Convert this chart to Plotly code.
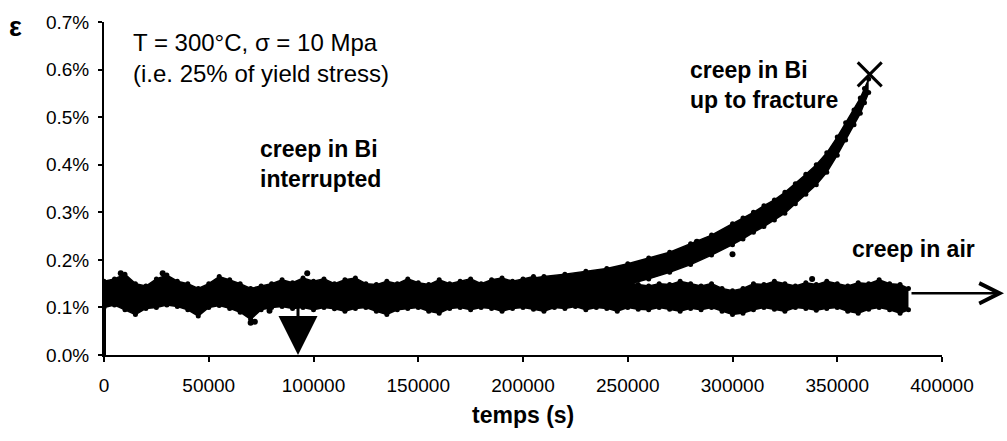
import plotly.graph_objects as go

# ---------------- data (values in % strain) ----------------
# common band (creep in air + early parts of the Bi tests)
band_t = [0, 5000, 10000, 15000, 20000, 25000, 30000, 35000, 40000, 45000,
          50000, 55000, 60000, 65000, 70000, 75000, 80000, 85000, 90000, 95000,
          100000, 105000, 110000, 115000, 120000, 125000, 130000, 135000, 140000, 145000,
          150000, 155000, 160000, 165000, 170000, 175000, 180000, 185000, 190000, 195000,
          200000, 205000, 210000, 215000, 220000, 225000, 230000, 235000, 240000, 245000,
          250000, 255000, 260000, 265000, 270000, 275000, 280000, 285000, 290000, 295000,
          300000, 305000, 310000, 315000, 320000, 325000, 330000, 335000, 340000, 345000,
          350000, 355000, 360000, 365000, 370000, 375000, 380000, 384000]
band_upper = [0.155, 0.160, 0.170, 0.150, 0.145, 0.160, 0.168, 0.155, 0.150, 0.140,
              0.150, 0.165, 0.158, 0.150, 0.140, 0.145, 0.150, 0.158, 0.152, 0.162,
              0.155, 0.160, 0.150, 0.158, 0.162, 0.150, 0.148, 0.155, 0.150, 0.160,
              0.152, 0.148, 0.158, 0.150, 0.155, 0.160, 0.150, 0.158, 0.162, 0.155,
              0.160, 0.165, 0.158, 0.162, 0.168, 0.165, 0.160, 0.158, 0.155, 0.150,
              0.152, 0.148, 0.145, 0.150, 0.148, 0.155, 0.150, 0.145, 0.150, 0.140,
              0.135, 0.140, 0.150, 0.148, 0.155, 0.150, 0.145, 0.152, 0.148, 0.155,
              0.150, 0.145, 0.152, 0.150, 0.158, 0.150, 0.148, 0.140]
band_lower = [0.100, 0.105, 0.095, 0.085, 0.098, 0.100, 0.105, 0.102, 0.095, 0.082,
              0.100, 0.104, 0.098, 0.090, 0.075, 0.095, 0.100, 0.102, 0.098, 0.100,
              0.095, 0.100, 0.097, 0.092, 0.098, 0.100, 0.092, 0.085, 0.095, 0.098,
              0.100, 0.092, 0.088, 0.098, 0.100, 0.095, 0.100, 0.098, 0.092, 0.098,
              0.100, 0.096, 0.092, 0.100, 0.098, 0.102, 0.095, 0.100, 0.098, 0.092,
              0.100, 0.096, 0.095, 0.100, 0.096, 0.092, 0.098, 0.095, 0.100, 0.092,
              0.085, 0.088, 0.095, 0.100, 0.096, 0.092, 0.100, 0.098, 0.094, 0.098,
              0.100, 0.092, 0.088, 0.096, 0.100, 0.095, 0.088, 0.095]

# creep in Bi up to fracture (accelerating part)
frac_t = [200000, 210000, 220000, 230000, 240000, 250000, 260000, 270000, 280000, 290000,
          300000, 305000, 310000, 315000, 320000, 325000, 330000, 335000, 340000, 345000,
          350000, 354000, 358000, 361000, 363000, 365000]
frac_upper = [0.158, 0.165, 0.170, 0.176, 0.182, 0.192, 0.204, 0.216, 0.234, 0.252,
              0.276, 0.288, 0.300, 0.314, 0.326, 0.342, 0.360, 0.380, 0.400, 0.425,
              0.458, 0.488, 0.515, 0.540, 0.560, 0.580]
frac_lower = [0.115, 0.118, 0.122, 0.128, 0.138, 0.148, 0.160, 0.174, 0.190, 0.210,
              0.232, 0.244, 0.258, 0.270, 0.284, 0.298, 0.318, 0.338, 0.358, 0.384,
              0.420, 0.452, 0.484, 0.508, 0.530, 0.552]

# isolated scatter points
out_t = [8000, 28000, 70000, 72000, 79000, 97000, 283000, 300000, 338000]
out_v = [0.172, 0.172, 0.068, 0.070, 0.093, 0.172, 0.238, 0.212, 0.160]

# initial loading at t = 0
load_t = [0, 0]
load_v = [0.0, 0.14]

# fracture point
fract_t = [365500]
fract_v = [0.59]

interrupt_t = 92600   # end of interrupted Bi test

x_ticks = [0, 50000, 100000, 150000, 200000, 250000, 300000, 350000, 400000]
y_ticks = [0.0, 0.1, 0.2, 0.3, 0.4, 0.5, 0.6, 0.7]
y_ticktext = ["0.0%", "0.1%", "0.2%", "0.3%", "0.4%", "0.5%", "0.6%", "0.7%"]

# ---------------- figure ----------------
BLK = "black"
fig = go.Figure()

def band(t, lo, hi):
    fig.add_trace(go.Scatter(x=t, y=lo, mode="lines+markers",
                             line=dict(color=BLK, width=1.5),
                             marker=dict(color=BLK, size=5),
                             showlegend=False, hoverinfo="skip"))
    fig.add_trace(go.Scatter(x=t, y=hi, mode="lines+markers", fill="tonexty",
                             fillcolor=BLK, line=dict(color=BLK, width=1.5),
                             marker=dict(color=BLK, size=5),
                             showlegend=False, hoverinfo="skip"))

band(band_t, band_lower, band_upper)
band(frac_t, frac_lower, frac_upper)

fig.add_trace(go.Scatter(x=out_t, y=out_v, mode="markers",
                         marker=dict(color=BLK, size=6), showlegend=False))
fig.add_trace(go.Scatter(x=load_t, y=load_v, mode="lines",
                         line=dict(color=BLK, width=4), showlegend=False))
fig.add_trace(go.Scatter(x=fract_t, y=fract_v, mode="markers",
                         marker=dict(symbol="x-thin", size=24, color=BLK,
                                     line=dict(color=BLK, width=3)),
                         showlegend=False))

font_tick = dict(family="Liberation Sans, Arial, sans-serif", size=19, color=BLK)
font_reg = dict(family="Liberation Sans, Arial, sans-serif", size=24, color=BLK)
font_bold = dict(family="Liberation Sans, Arial, sans-serif", size=23, color=BLK, weight="bold")

L, R, T, B = 104, 65, 15, 86
W, H = 1007, 441
pw, ph = W - L - R, H - T - B

def px(xp):
    return (xp - L) / pw

def py(yp):
    return (H - B - yp) / ph

annotations = [
    dict(text="ε", x=px(15), y=py(20),
         font=dict(family="Liberation Sans, Arial", size=27, color=BLK, weight="bold")),
    dict(text="T = 300°C, σ = 10 Mpa<br>(i.e. 25% of yield stress)", x=px(131), y=py(52),
         xanchor="left", align="left", font=font_reg),
    dict(text="creep in Bi<br>interrupted", x=px(258), y=py(160), xanchor="left",
         align="left", font=font_bold),
    dict(text="creep in Bi<br>up to fracture", x=px(688), y=py(79), xanchor="left",
         align="left", font=font_bold),
    dict(text="creep in air", x=px(850), y=py(247), xanchor="left", font=font_bold),
    dict(text="temps (s)", x=0.5, y=py(416), font=font_bold),
]
for a in annotations:
    a.update(xref="paper", yref="paper", showarrow=False)
    a.setdefault("xanchor", "center")
    a.setdefault("yanchor", "middle")

# down arrow marking the interruption
annotations.append(dict(x=interrupt_t, y=0.0, xref="x", yref="y", text="",
                        showarrow=True, ax=0, ay=-62, arrowhead=2, arrowsize=2.6,
                        arrowwidth=3, arrowcolor=BLK, standoff=0))
# arrow showing creep in air continues
annotations.append(dict(x=px(1004), y=py(292), xref="paper", yref="paper", text="",
                        showarrow=True, ax=-(1004 - 910), ay=0, arrowhead=5,
                        arrowsize=1.6, arrowwidth=2.5, arrowcolor=BLK, standoff=0))

fig.update_layout(
    width=W, height=H,
    margin=dict(l=L, r=R, t=T, b=B),
    paper_bgcolor="white", plot_bgcolor="white",
    showlegend=False,
    annotations=annotations,
    xaxis=dict(range=[0, 400000], tickvals=x_ticks, ticktext=[str(v) for v in x_ticks],
               showgrid=False, zeroline=False, showline=True, linecolor=BLK, linewidth=2,
               ticks="outside", ticklen=5, tickwidth=2, tickcolor=BLK,
               tickfont=font_tick, ticklabelstandoff=7),
    yaxis=dict(range=[0, 0.7], tickvals=y_ticks, ticktext=y_ticktext,
               showgrid=False, zeroline=False, showline=True, linecolor=BLK, linewidth=2,
               ticks="outside", ticklen=4, tickwidth=2, tickcolor=BLK,
               tickfont=font_tick, ticklabelstandoff=5),
)

fig.write_html("out.html", config={"displayModeBar": False},
               post_script="document.body.style.margin='0';")
